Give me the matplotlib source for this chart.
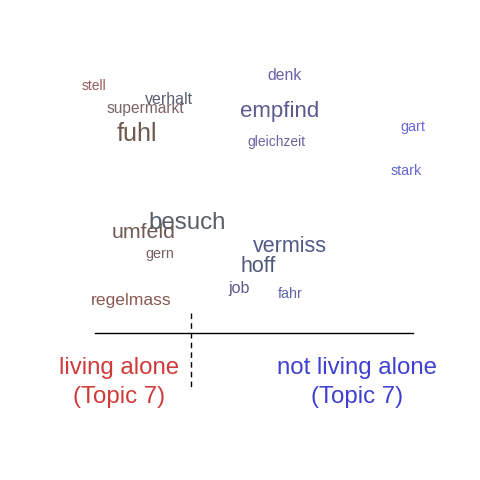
import matplotlib
matplotlib.use("Agg")
import matplotlib.pyplot as plt

plt.rcParams['font.family'] = ['Liberation Sans', 'DejaVu Sans']

# words of topic 7, position on the plot (pixel-like units), size and colour
words = ['stell', 'supermarkt', 'verhalt', 'fuhl', 'denk', 'empfind',
         'gleichzeit', 'gart', 'stark', 'besuch', 'umfeld', 'gern',
         'regelmass', 'vermiss', 'hoff', 'job', 'fahr']
word_x = [94.5, 145, 169, 136.5, 284, 279.5, 276, 412.5, 406.5, 187, 144,
          159.5, 131.5, 290, 258, 239, 290.5]
word_y = [86, 109, 100, 134, 76, 111, 142, 127, 171, 223, 233, 254, 301,
          247, 266, 288, 294]
word_size = [10, 11.2, 11.5, 18, 11.3, 16, 10, 10.4, 10.3, 17.4, 15.4,
             10.4, 12.6, 15.5, 15.5, 11.5, 10.4]
word_color = ['#9a5a5a', '#7a6464', '#5a6070', '#6e5a50', '#6a60a8',
              '#5a5a8e', '#6a64a4', '#6a66d8', '#6466d0', '#575e68',
              '#705a55', '#7a6060', '#8a5a52', '#525a88', '#505878',
              '#5c5a88', '#6064a8']

labels = ['living alone\n(Topic 7)', 'not living alone\n(Topic 7)']
label_x = [119, 357]
label_colors = ['#D03A3A', '#4040D0']

fig = plt.figure(figsize=(4.8, 4.8), dpi=100)
ax = fig.add_axes([0, 0, 1, 1])
ax.set_xlim(0, 480)
ax.set_ylim(480, 0)
ax.axis('off')

for w, x, y, s, c in zip(words, word_x, word_y, word_size, word_color):
    ax.text(x, y, w, fontsize=s, color=c, ha='center', va='center')

# baseline and dashed divider
ax.plot([95, 413], [333, 333], color='black', linewidth=1)
ax.plot([191, 191], [313, 390], color='black', linewidth=1, linestyle=(0, (4, 3)))

for lab, x, c in zip(labels, label_x, label_colors):
    ax.text(x, 382.5, lab, fontsize=17.3, color=c, ha='center', va='center',
            linespacing=1.38)

plt.savefig('out.png', dpi=100)
